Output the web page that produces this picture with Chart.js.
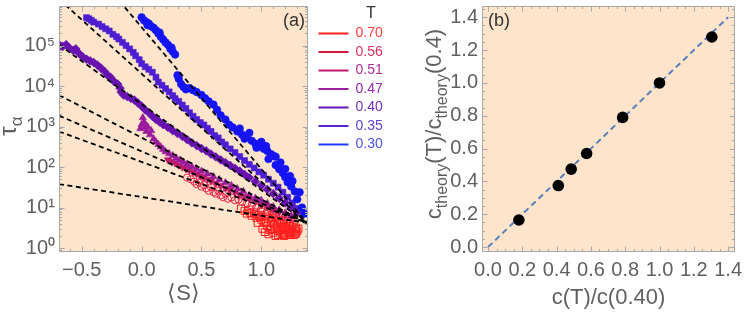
<!DOCTYPE html>
<html><head><meta charset="utf-8">
<script src="https://cdn.jsdelivr.net/npm/chart.js@4.4.1/dist/chart.umd.min.js"></script>
<style>
html,body{margin:0;padding:0;background:#fff;}
#wrap{position:relative;width:747px;height:313px;overflow:hidden;}
#c1{position:absolute;left:0;top:0;width:420px;height:313px;}
#c2{position:absolute;left:420px;top:0;width:327px;height:313px;}
</style></head><body>
<div id="wrap"><canvas id="c1" width="420" height="313"></canvas><canvas id="c2" width="327" height="313"></canvas></div>
<script>
// ---------------- DATA ----------------
const temps = ['0.70','0.56','0.51','0.47','0.40','0.35','0.30'];

const T030 = [[0.00,5.0e5],[0.02,4.2e5],[0.04,3.8e5],[0.05,3.2e5],[0.06,3.5e5],[0.08,3.0e5],[0.10,2.75e5],[0.12,2.4e5],[0.14,2.0e5],[0.15,2.1e5],[0.16,1.66e5],[0.18,1.41e5],[0.20,1.2e5],[0.22,1.05e5],[0.24,8.3e4],[0.25,8.9e4],[0.26,7.1e4],[0.28,6.0e4],
 [0.30,1.86e4],[0.31,1.51e4],[0.33,1.12e4],[0.35,9.5e3],[0.37,8.3e3],[0.40,8.9e3],[0.43,7.9e3],[0.46,7.1e3],[0.50,6.0e3],[0.53,5.0e3],[0.56,4.2e3],[0.60,3.5e3],[0.63,2.6e3],[0.66,1.9e3],[0.70,1.5e3],[0.73,1.12e3],[0.76,955],[0.80,760],[0.82,900],[0.84,630],[0.86,500],[0.88,550],[0.90,700],[0.92,447],[0.95,380],[0.96,300],[0.98,331],[1.00,420],[1.02,282],[1.04,330],[1.05,251],[1.08,209],[1.10,191],[1.06,158],[1.12,112],[1.12,180],[1.15,89],[1.16,130],[1.18,71],[1.20,56],[1.20,90],[1.22,42],[1.24,60],[1.25,33],[1.26,45],[1.28,25],[1.32,24],[1.30,16],[1.34,10],[1.36,7]];

const T035 = [[-0.46,4.9e5],[-0.44,4.6e5],[-0.42,4.2e5],[-0.40,3.8e5],[-0.36,3.4e5],[-0.33,2.95e5],[-0.30,2.6e5],[-0.27,2.3e5],[-0.24,1.9e5],[-0.21,1.66e5],[-0.19,1.45e5],[-0.16,1.2e5],[-0.13,1.0e5],[-0.10,8.3e4],[-0.07,6.8e4],[-0.05,5.6e4],[-0.02,4.5e4],[0.00,3.6e4],[0.03,3.0e4],[0.06,2.6e4],[0.09,2.2e4],[0.12,1.66e4],[0.14,1.26e4],[0.17,1.05e4],[0.20,8.7e3],[0.23,7.2e3],[0.26,5.8e3],[0.28,4.9e3],[0.31,4.2e3],[0.34,3.4e3],[0.37,2.8e3],[0.40,2.2e3],[0.43,1.8e3],[0.46,1.5e3],[0.49,1.26e3],[0.52,1.1e3],[0.55,910],[0.58,760],[0.61,600],[0.64,525],[0.67,417],[0.70,355],[0.74,282],[0.78,229],[0.82,182],[0.86,145],[0.90,117],[0.94,95],[0.98,76],[1.02,63],[1.06,50],[1.10,40],[1.14,32],[1.18,24],[1.22,18],[1.26,13],[1.30,9.5]];

const T040 = [[-0.68,1.0e5],[-0.66,9.5e4],[-0.63,1.05e5],[-0.60,8.5e4],[-0.57,7.6e4],[-0.55,8.3e4],[-0.52,6.3e4],[-0.49,5.2e4],[-0.46,4.6e4],[-0.43,4.2e4],[-0.40,3.8e4],[-0.37,3.3e4],[-0.34,2.8e4],[-0.31,2.3e4],[-0.28,1.8e4],[-0.26,1.66e4],[-0.23,1.3e4],[-0.20,1.12e4],[-0.18,8.9e3],[-0.17,7.1e3],[-0.15,6.0e3],[-0.12,5.5e3],[-0.09,5.0e3],[-0.06,4.5e3],[-0.03,3.8e3],[0.00,3.2e3],[0.03,2.6e3],[0.06,2.2e3],[0.09,1.8e3],[0.12,1.5e3],[0.15,1.3e3],[0.18,1.12e3],[0.22,955],[0.26,794],[0.30,676],[0.34,575],[0.38,479],[0.42,398],[0.46,339],[0.50,288],[0.54,251],[0.58,209],[0.62,178],[0.66,151],[0.70,129],[0.74,110],[0.78,93],[0.82,79],[0.86,66],[0.90,55],[0.95,44],[1.00,35],[1.05,28],[1.10,22],[1.15,17],[1.20,13],[1.25,10],[1.30,7.6]];

const T047 = [[-0.01,890],[0.00,1.12e3],[0.01,1.66e3],[0.02,1.3e3],[0.03,955],[0.04,760],[0.05,1.0e3],[0.07,630],[0.08,794],[0.10,500],[0.12,417],[0.14,363],[0.16,316],[0.18,275],[0.20,240],[0.23,214],[0.26,191],[0.29,166],[0.32,148],[0.35,132],[0.38,117],[0.42,102],[0.46,91],[0.50,79],[0.55,68],[0.60,58],[0.65,49],[0.70,41],[0.75,35],[0.80,29],[0.85,25],[0.90,20],[0.95,17],[1.00,15],[1.05,12.6],[1.10,10.5],[1.15,8.7],[1.20,7.4],[1.25,6.3]];

const T051 = [[0.22,151],[0.25,138],[0.28,126],[0.31,112],[0.34,100],[0.37,91],[0.40,83],[0.43,74],[0.46,68],[0.49,60],[0.52,55],[0.55,50],[0.58,45],[0.62,40],[0.66,35],[0.70,30],[0.74,27],[0.78,24],[0.82,21],[0.86,18.6],[0.90,16.2],[0.95,13.8],[1.00,11.7],[1.05,10.2],[1.10,8.9],[1.15,7.8],[1.20,6.8],[1.25,5.9]];

const T056 = [[0.38,55],[0.41,50],[0.44,44],[0.46,38],[0.48,42],[0.50,33],[0.52,36],[0.54,30],[0.56,26],[0.58,32],[0.60,24],[0.62,22],[0.64,26],[0.66,20],[0.68,18],[0.70,22],[0.72,16.6],[0.75,17.8],[0.78,15.1],[0.81,15.8],[0.84,13.8],[0.88,12.6],[0.92,11.2],[0.96,10],[1.00,9.1],[1.05,8.1],[1.10,7.2],[1.15,6.6],[1.20,6.0],[1.25,5.5]];

const T070 = [[0.83,9.5],[0.86,8.3],[0.88,7.1],[0.90,8.9],[0.91,7.4],[0.92,6.3],[0.94,7.6],[0.95,6.9],[0.96,5.6],[0.97,4.2],[0.98,6.6],[0.99,5.8],[1.00,5.0],[1.00,7.9],[1.01,3.0],[1.02,4.2],[1.03,6.0],[1.03,2.5],[1.04,4.5],[1.05,3.5],[1.05,7.1],[1.06,5.2],[1.06,2.2],[1.07,2.8],[1.08,4.8],[1.08,3.0],[1.09,5.5],[1.09,6.6],[1.10,2.4],[1.10,4.0],[1.11,7.6],[1.11,2.9],[1.12,6.0],[1.12,2.0],[1.13,3.2],[1.13,4.6],[1.14,2.1],[1.14,3.6],[1.15,2.6],[1.15,5.0],[1.16,4.2],[1.16,2.9],[1.17,2.2],[1.17,3.9],[1.18,3.3],[1.18,2.4],[1.19,2.0],[1.19,4.8],[1.20,2.8],[1.20,2.1],[1.21,4.5],[1.21,3.1],[1.22,2.4],[1.22,5.2],[1.23,3.5],[1.23,2.7],[1.24,2.1],[1.24,3.9],[1.25,3.0],[1.25,2.3],[1.26,2.5],[1.26,3.4],[1.27,4.0],[1.27,2.1],[1.28,2.2],[1.28,2.9],[1.29,3.2],[1.29,2.3],[1.30,2.6],[1.31,3.0]];

// dashed fit lines (order of temps), tau at S = fitS[0] and fitS[1]
const fitS = [-0.69, 1.38];
const fitTauStart = [38, 760, 1860, 6000, 1.05e5, 1.4e6, 7.4e7];
const fitTauEnd = [4.2, 4.2, 4.2, 4.2, 4.2, 4.2, 4.2];

const xTicksA = [-0.5, 0, 0.5, 1.0];
const yTicksA = [1, 10, 100, 1000, 10000, 100000];

// panel (b)
const ratioMeasured = [0.18, 0.41, 0.485, 0.575, 0.785, 1.0, 1.305];
const ratioTheory   = [0.165, 0.375, 0.475, 0.57, 0.79, 1.0, 1.28];
const diagX = [0, 1.4];
const diagY = [0, 1.4];
const ticksB = [0, 0.2, 0.4, 0.6, 0.8, 1.0, 1.2, 1.4];

// ---------------- STYLE ----------------
const F = "'Liberation Sans', Arial, sans-serif";
const TXT = '#606060';
const FRAME = '#a8a8a8';
const BG = '#fde4cb';
const lineColors = ['#ff1f1f','#d6173f','#c0186e','#a01ea0','#6414b4','#5a24cc','#1f3cff'];
const textColors = ['#ff3b3b','#e0305f','#b02c90','#9a2ab0','#7430c0','#6040d8','#4a55e8'];
Chart.defaults.font.family = F;

const seriesDefs = {
  '0.30': {d:T030, color:'#1414f5', style:'circle', r:3.8, open:false, rot:0},
  '0.35': {d:T035, color:'#4e1ed2', style:'rect', r:4.2, open:false, rot:0},
  '0.40': {d:T040, color:'#6812b0', style:'rectRot', r:4.4, open:false, rot:0},
  '0.47': {d:T047, color:'#9a1a9c', style:'triangle', r:4.2, open:false, rot:0},
  '0.51': {d:T051, color:'#c01a6a', style:'triangle', r:4.2, open:false, rot:180},
  '0.56': {d:T056, color:'#e8284e', style:'circle', r:3.6, open:true, rot:0},
  '0.70': {d:T070, color:'#ff1e1e', style:'rect', r:5.0, open:true, rot:0}
};

const sup = {'0':'\u2070','1':'\u00B9','2':'\u00B2','3':'\u00B3','4':'\u2074','5':'\u2075','6':'\u2076'};
const fmtSigned = v => (v < 0 ? '\u2212' : '') + Math.abs(v).toFixed(1);
const noPad = s => { s.paddingTop = 0; s.paddingBottom = 0; s.paddingLeft = 0; s.paddingRight = 0; };

// minor tick helpers (decoration only)
function linMinor(a, b, step){ const out=[]; for(let k=Math.ceil(a/step-1e-9); k*step<=b+1e-9; k++) out.push(+(k*step).toFixed(6)); return out; }
function logMinor(a, b){ const out=[]; for(let d=-1; d<=6; d++){ for(let m=1; m<=9; m++){ const v=m*Math.pow(10,d); if(v>=a && v<=b) out.push(v);} } return out; }

const framePlugin = {
  id: 'frame',
  beforeDraw(chart) {
    const {ctx, chartArea: a} = chart;
    ctx.save(); ctx.fillStyle = BG; ctx.fillRect(a.left, a.top, a.right - a.left, a.bottom - a.top); ctx.restore();
  },
  afterDatasetsDraw(chart, args, o) {
    const {ctx, chartArea: a, scales} = chart;
    const xs = scales.x, ys = scales.y;
    ctx.save();
    ctx.strokeStyle = FRAME; ctx.lineWidth = 1;
    ctx.beginPath();
    const seg = (x1,y1,x2,y2) => { ctx.moveTo(x1,y1); ctx.lineTo(x2,y2); };
    const L = Math.round(a.left)+0.5, R = Math.round(a.right)-0.5, T = Math.round(a.top)+0.5, B = Math.round(a.bottom)-0.5;
    seg(L,T,R,T); seg(R,T,R,B); seg(R,B,L,B); seg(L,B,L,T);
    const xt = (vals, len) => vals.forEach(v => { const p = Math.round(xs.getPixelForValue(v))+0.5; if (p < L || p > R) return; seg(p,B,p,B-len); seg(p,T,p,T+len); });
    const yt = (vals, len) => vals.forEach(v => { const p = Math.round(ys.getPixelForValue(v))+0.5; if (p < T || p > B) return; seg(L,p,L+len,p); seg(R,p,R-len,p); });
    xt(o.xMinor, 2.5); xt(o.xMajor, 5);
    yt(o.yMinor, 2.5); yt(o.yMajor, 5);
    ctx.stroke();
    ctx.restore();
  }
};

function drawRich(ctx, it) {
  const base = it.size, sub = Math.round(base * 0.72);
  ctx.save();
  ctx.translate(it.x, it.y);
  if (it.rot) ctx.rotate(-Math.PI / 2);
  let w = 0;
  const parts = it.segs.map(s => { ctx.font = (s.sub ? sub : base) + 'px ' + F; const m = ctx.measureText(s.t).width; w += m; return {t:s.t, sub:s.sub, m}; });
  let cx = it.align === 'left' ? 0 : -w / 2;
  ctx.fillStyle = it.color; ctx.textBaseline = 'alphabetic'; ctx.textAlign = 'left';
  parts.forEach(p => { ctx.font = (p.sub ? sub : base) + 'px ' + F; ctx.fillText(p.t, cx, p.sub ? base * 0.26 : 0); cx += p.m; });
  ctx.restore();
}
const richPlugin = {
  id: 'rich',
  afterDraw(chart, args, o) { o.items.forEach(it => drawRich(chart.ctx, it)); }
};

// ---------------- PANEL (a) ----------------
const fitDatasets = temps.map((t, i) => ({
  label: 'fit T=' + t,
  data: [{x: fitS[0], y: fitTauStart[i]}, {x: fitS[1], y: fitTauEnd[i]}],
  showLine: true, borderColor: '#000', borderWidth: 1.8, borderDash: [5, 3.5],
  pointRadius: 0, pointHoverRadius: 0, fill: false, order: 0
}));
const drawOrder = ['0.30','0.35','0.40','0.47','0.51','0.56','0.70'];
const pointDatasets = drawOrder.map((t, k) => {
  const s = seriesDefs[t];
  return {
    label: 'T = ' + t,
    data: s.d.map(p => ({x: p[0], y: p[1]})),
    pointStyle: s.style, pointRadius: s.r, pointRotation: s.rot,
    pointBackgroundColor: s.open ? 'rgba(0,0,0,0)' : s.color,
    pointBorderColor: s.color, pointBorderWidth: s.open ? 1 : 0.6,
    showLine: false, order: k + 1
  };
});

new Chart(document.getElementById('c1'), {
  type: 'scatter',
  data: { datasets: [...fitDatasets, ...pointDatasets] },
  options: {
    responsive: false, animation: false, devicePixelRatio: 1,
    layout: { padding: { top: 4, right: 42, bottom: 0, left: 0 } },
    scales: {
      x: {
        type: 'linear', min: -0.69, max: 1.39,
        grid: { display: false, drawTicks: false }, border: { display: false },
        afterBuildTicks: s => { s.ticks = xTicksA.map(v => ({value: v})); },
        afterFit: s => { s.height = 61; noPad(s); },
        ticks: { padding: 6, color: TXT, font: { size: 20, family: F }, callback: v => fmtSigned(v), autoSkip: false, maxRotation: 0, minRotation: 0 },
        title: { display: true, text: '\u27E8S\u27E9', color: TXT, font: { size: 22, family: F }, padding: { top: 0, bottom: 6 } }
      },
      y: {
        type: 'logarithmic', min: 0.8, max: 9.5e5,
        grid: { display: false, drawTicks: false }, border: { display: false },
        afterBuildTicks: s => { s.ticks = yTicksA.map(v => ({value: v})); },
        afterFit: s => { s.width = 59; noPad(s); },
        ticks: { padding: 4, color: TXT, font: { size: 20, family: F }, autoSkip: false,
          callback: v => '10' + sup[String(Math.round(Math.log10(v)))] }
      }
    },
    plugins: {
      tooltip: { enabled: false },
      legend: {
        display: true, position: 'right', align: 'start', maxWidth: 70,
        title: { display: true, text: 'T', color: '#333', font: { size: 16, family: F, lineHeight: 1 }, padding: { top: 6, bottom: 0 } },
        labels: {
          boxWidth: 30, boxHeight: 2, padding: 4.5, font: { size: 14, family: F },
          generateLabels: () => temps.map((t, i) => ({ text: t, fillStyle: lineColors[i], strokeStyle: lineColors[i], lineWidth: 0, fontColor: textColors[i], hidden: false }))
        }
      },
      frame: { xMajor: xTicksA, xMinor: linMinor(-0.69, 1.39, 0.1), yMajor: yTicksA, yMinor: logMinor(0.8, 9.5e5) },
      rich: { items: [
        { segs: [{t:'\u03C4'}, {t:'\u03B1', sub:true}], x: 16, y: 126, rot: true, size: 24, color: TXT },
        { segs: [{t:'(a)'}], x: 294, y: 26, rot: false, size: 18, color: '#333' }
      ] }
    }
  },
  plugins: [framePlugin, richPlugin, {
    id: 'legendPos',
    afterLayout(chart) { const lg = chart.legend; if (!lg) return; lg.left = 314; lg.width = 114; lg.right = 428; lg.top = 0; lg.bottom = 313; lg.height = 313; }
  }]
});

// ---------------- PANEL (b) ----------------
new Chart(document.getElementById('c2'), {
  type: 'scatter',
  data: { datasets: [
    { label: 'theory vs fit', data: ratioMeasured.map((v, i) => ({x: v, y: ratioTheory[i]})),
      pointStyle: 'circle', pointRadius: 5.8, pointBackgroundColor: '#000', pointBorderColor: '#000', pointBorderWidth: 0, order: 0 },
    { label: 'y = x', data: diagX.map((v, i) => ({x: v, y: diagY[i]})), showLine: true,
      borderColor: '#5b80bd', borderWidth: 2, borderDash: [6, 4], pointRadius: 0, fill: false, order: 1 }
  ] },
  options: {
    responsive: false, animation: false, devicePixelRatio: 1,
    layout: { padding: { top: 4, right: 12, bottom: 0, left: 0 } },
    scales: {
      x: {
        type: 'linear', min: -0.035, max: 1.44,
        grid: { display: false, drawTicks: false }, border: { display: false },
        afterBuildTicks: s => { s.ticks = ticksB.map(v => ({value: v})); },
        afterFit: s => { s.height = 61; noPad(s); },
        ticks: { padding: 6, color: TXT, font: { size: 20, family: F }, callback: v => v.toFixed(1), autoSkip: false, maxRotation: 0, minRotation: 0 },
        title: { display: true, text: 'c(T)/c(0.40)', color: TXT, font: { size: 22, family: F }, padding: { top: 0, bottom: 2 } }
      },
      y: {
        type: 'linear', min: -0.03, max: 1.47,
        grid: { display: false, drawTicks: false }, border: { display: false },
        afterBuildTicks: s => { s.ticks = ticksB.map(v => ({value: v})); },
        afterFit: s => { s.width = 62; noPad(s); },
        ticks: { padding: 4, color: TXT, font: { size: 20, family: F }, callback: v => v.toFixed(1), autoSkip: false }
      }
    },
    plugins: {
      tooltip: { enabled: false }, legend: { display: false },
      frame: { xMajor: ticksB, xMinor: linMinor(0, 1.44, 0.05), yMajor: ticksB, yMinor: linMinor(0, 1.47, 0.05) },
      rich: { items: [
        { segs: [{t:'c'}, {t:'theory', sub:true}, {t:'(T)/c'}, {t:'theory', sub:true}, {t:'(0.4)'}], x: 21, y: 124, rot: true, size: 22, color: TXT },
        { segs: [{t:'(b)'}], x: 79, y: 26, rot: false, size: 18, color: '#333' }
      ] }
    }
  },
  plugins: [framePlugin, richPlugin]
});
</script>
</body></html>
